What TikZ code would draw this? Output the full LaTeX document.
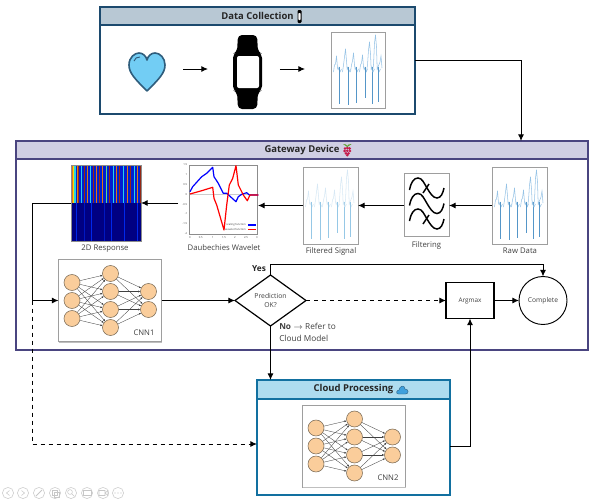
\documentclass[tikz,border=0pt]{standalone}
\usepackage{amsmath, amssymb}
\usepackage{fontspec}
\setmainfont{Open Sans}
\usetikzlibrary{arrows.meta, positioning, shapes.geometric, calc}
\definecolor{dcnavy}{RGB}{28,74,110}
\definecolor{dchead}{RGB}{184,200,212}
\definecolor{gwpurple}{RGB}{74,69,128}
\definecolor{gwhead}{RGB}{208,207,227}
\definecolor{cloudteal}{RGB}{18,112,160}
\definecolor{cloudhead}{RGB}{174,220,239}
\definecolor{heartblue}{RGB}{114,205,244}
\definecolor{heartline}{RGB}{47,93,124}
\definecolor{nnfill}{RGB}{250,205,155}
\definecolor{nnline}{RGB}{120,105,85}
\definecolor{rawwave}{RGB}{150,195,230}
\definecolor{rawspike}{RGB}{85,150,200}
\definecolor{filtwave}{RGB}{215,232,245}
\definecolor{filtspike}{RGB}{150,200,230}
\definecolor{respnavy}{RGB}{0,0,130}
\definecolor{respblue}{RGB}{0,40,235}
\definecolor{respcyan}{RGB}{40,210,230}
\definecolor{resporange}{RGB}{225,120,20}
\definecolor{respbrown}{RGB}{150,40,20}
\definecolor{respgreen}{RGB}{90,220,140}
\definecolor{labeltext}{RGB}{64,64,64}
\definecolor{berry}{RGB}{197,26,74}
\definecolor{leaf}{RGB}{90,160,44}
\definecolor{cloudicon}{RGB}{63,160,220}
\tikzset{
  boxsize/.style 2 args={minimum width=#1*0.75pt, minimum height=#2*0.75pt, inner sep=0pt, outer sep=0pt},
  flow/.style={-{Latex[length=5pt,width=4.5pt]}, line width=0.7pt},
  dashflow/.style={flow, dashed},
  plainflow/.style={line width=0.7pt},
  sigbox/.style={draw=black!38, line width=0.6pt, fill=white},
  caption/.style={font=\fontsize{5.8}{7}\selectfont, text=labeltext},
  headtext/.style={font=\fontsize{7.1}{8}\selectfont\bfseries, text=black!85},
  nnode/.style={circle, draw=nnline, line width=0.4pt, fill=nnfill, minimum size=12*1pt, inner sep=0pt},
  nnedge/.style={-{Latex[length=1.5pt,width=1.5pt]}, line width=0.25pt, black!75},
  cnnet/.pic={
    \node[sigbox, boxsize={103}{82}] (-frame) at (0,0) {};
    \draw[black!25, line width=0.8pt] (-51.5,41.6) -- (51.5,41.6);
    \foreach \i/\ypos in {1/-18,2/0,3/18} \node[nnode] (-a\i) at (-38,\ypos) {};
    \foreach \i/\ypos in {1/-27,2/-9,3/9,4/27} \node[nnode] (-b\i) at (0.5,\ypos) {};
    \foreach \i/\ypos in {1/-9,2/9} \node[nnode] (-c\i) at (38.5,\ypos) {};
    \foreach \i in {1,2,3} \foreach \j in {1,2,3,4} \draw[nnedge] (-a\i) -- (-b\j);
    \foreach \i in {1,2,3,4} \foreach \j in {1,2} \draw[nnedge] (-b\i) -- (-c\j);
    \node[caption] (-label) at (34,32) {\tikzpictext};
  }
}
% one ecg trace, origin at the upper left of its frame
\newcommand{\ecgtrace}[4]{
  \begin{scope}[shift={(#1,#2)}]
    \foreach \s/\h/\e in {8/24/72,17/17/73,25/21/71,34/23/66,41/10/72,47/3/70} {
      \draw[#3, line width=0.4pt, line join=round] ({\s-5.5},40) -- ({\s-4.5},33) -- ({\s-3.5},\h+8) -- ({\s-2.5},\h) -- ({\s-1.5},\h+12) -- ({\s-0.8},38) -- (\s,35) -- ({\s+1},40) -- ({\s+2.5},37);
      \draw[#4, line width=0.45pt] (\s,35) -- (\s,\e);
    }
    \draw[#3, line width=0.4pt] (47,35) -- (49,30) -- (50,24) -- (51,36);
  \end{scope}
}
\begin{document}
\begin{tikzpicture}[x=0.75pt, y=-0.75pt]
  \useasboundingbox (0,0) rectangle (596,500);
  % data collection
  \node[draw=dcnavy, line width=1.6pt, fill=white, boxsize={315}{107}] (datacol) at (257.5,60.5) {};
  \node[draw=dcnavy, line width=1.4pt, fill=dchead, boxsize={315}{18.5}, headtext] (dchd) at (257.5,16) {Data Collection};
  \fill[black, rounded corners=0.8pt] (297.5,10) rectangle (301.5,23);
  \fill[white, rounded corners=0.5pt] (298.4,13) rectangle (300.6,20);
  \node[boxsize={38}{32}] (heart) at (147,69) {};
  \draw[heartline, line width=1.2pt, fill=heartblue, line join=round] (147,91) .. controls (135,79) and (129,73) .. (129,65) .. controls (129,57) and (135,53) .. (139,53) .. controls (143,53) and (146,56) .. (147,60) .. controls (148,56) and (151,53) .. (155,53) .. controls (160,53) and (165,58) .. (165,65) .. controls (165,73) and (159,79) .. (147,91);
  \draw[heartline, line width=0.7pt] (134,61) .. controls (135,58) and (137,57) .. (140,57);
  \node[boxsize={30}{60}] (watch) at (247.5,69) {};
  \fill[black, rounded corners=3pt] (238,35) -- (257,35) -- (258,52) -- (262,54) -- (262,90) -- (258,92) -- (257,109) -- (238,109) -- (237,92) -- (233,90) -- (233,54) -- (237,52) -- cycle;
  \fill[white, rounded corners=1.5pt] (237,56) rectangle (259,88);
  \node[sigbox, boxsize={54}{76}] (rawdc) at (358,70) {};
  \ecgtrace{331}{32}{rawwave}{rawspike}
  \coordinate (wirea) at (358,69);
  \draw[flow, shorten <=12.75pt, shorten >=18.4pt] (heart.east) -- (watch.west);
  \draw[flow, shorten <=13pt, shorten >=19.5pt] (watch.east) -- (wirea -| rawdc.west);
  % gateway device
  \node[draw=gwpurple, line width=1.6pt, fill=white, boxsize={572}{209}] (gateway) at (302,245.5) {};
  \node[draw=gwpurple, line width=1.4pt, fill=gwhead, boxsize={572}{18.5}, headtext] (gwhd) at (302,150) {Gateway Device};
  \foreach \bx/\by in {345/148.5,347.3/148,349.6/148.5,344.6/151,347.3/150.8,350/151,346/153.4,348.6/153.4,347.3/155.2} \fill[berry] (\bx,\by) circle (1.1pt);
  \fill[leaf] (347.3,147) -- (343,144) -- (346,144.5) -- (347.3,146) -- (348.6,144.5) -- (351.6,144) -- cycle;
  \coordinate (gwin) at (521,141);
  \draw[flow] (datacol.east) -| (gwin);
  % raw data, filtering, filtered signal
  \node[sigbox, boxsize={55}{77}] (rawdata) at (519.5,205.5) {};
  \ecgtrace{492}{167}{rawwave}{rawspike}
  \node[caption] (rawcap) at (520,250.5) {Raw Data};
  \node[sigbox, boxsize={45}{63}] (filtering) at (426.5,204.5) {};
  \foreach \dy in {0,15.5,31}
    \draw[black, line width=1.1pt] (409.5,190+\dy) .. controls (411,182+\dy) and (414,178+\dy) .. (418,178+\dy) .. controls (422,178+\dy) and (424,183+\dy) .. (427,188+\dy) .. controls (430,193+\dy) and (433,198+\dy) .. (437,198+\dy) .. controls (441,198+\dy) and (443,193+\dy) .. (444,188+\dy);
  \draw[black, line width=1.1pt] (423,193) -- (429,184);
  \draw[black, line width=1.1pt] (423,224) -- (429,215);
  \node[caption] (filtcap) at (426.5,245) {Filtering};
  \node[sigbox, boxsize={55}{77}] (filtsig) at (330.5,205.5) {};
  \ecgtrace{303}{167}{filtwave}{filtspike}
  \node[caption] (filtsigcap) at (331,251.5) {Filtered Signal};
  % wavelet plot
  \node[boxsize={80}{82}] (wave) at (218,204) {};
  \draw[black!20, line width=0.5pt] (189,194.3) -- (257,194.3);
  \draw[black!45, line width=0.5pt] (189,165) rectangle (257,234);
  \foreach \ty/\tpos in {1.5/165,1/175,0.5/184.3,0/194.3,-0.5/204.3,-1/214,-1.5/224,-2/233.7}
    \node[font=\fontsize{2}{2}\selectfont, text=labeltext, inner sep=0pt, anchor=east] (ty\tpos) at (187.5,\tpos) {\ty};
  \foreach \tx/\tpos in {0/190,0.5/200.7,1/212.7,1.5/224,2/235,2.5/246,3/257}
    \node[font=\fontsize{2}{2}\selectfont, text=labeltext, inner sep=0pt] (tx\tpos) at (\tpos,237.5) {\tx};
  \draw[blue, line width=0.9pt, line join=round] (190,191.7) -- (192.7,186.7) -- (201.7,176.7) -- (206.7,173.3) -- (212.7,167.3) -- (214,176.7) -- (218.3,183.3) -- (223.3,193.3) -- (226.7,193.3) -- (236,201.7) -- (238.3,196.7) -- (241.7,194.3) -- (246.7,192.7) -- (249.3,195) -- (258.3,195);
  \draw[red, line width=0.9pt, line join=round] (190,194) -- (201.7,190.7) -- (212.7,187.3) -- (214,198.3) -- (216.7,205) -- (224,230) -- (226.7,205) -- (229.3,185) -- (232.7,178.3) -- (236,165.7) -- (238.3,185) -- (243.3,195) -- (247.3,200.7) -- (250,195) -- (258.3,195);
  \node[font=\fontsize{2}{2}\selectfont, text=labeltext, inner sep=0pt, anchor=east] (legscale) at (246,225) {scaling function};
  \node[font=\fontsize{2}{2}\selectfont, text=labeltext, inner sep=0pt, anchor=east] (legwave) at (246,229.5) {wavelet function};
  \draw[blue, line width=0.8pt] (legscale.east) ++(2,0) -- ++(8,0);
  \draw[red, line width=0.8pt] (legwave.east) ++(2,0) -- ++(8,0);
  \node[caption] (wavecap) at (224,248) {Daubechies Wavelet};
  % 2d response
  \node[boxsize={70}{76}, fill=respnavy] (resp2d) at (106,203) {};
  \fill[respblue!75!respnavy] (71,165) rectangle (141,203);
  \foreach \sx/\sw/\sc in {71/1.5/resporange,72.5/1.5/yellow!80!orange,74/1.5/respcyan,76.5/1/resporange,78/1/respbrown,81/1/respcyan,84/1.2/respbrown,87/1/resporange,90/1/respcyan,93/1.2/respbrown,95.5/0.8/resporange,99/1/respbrown,102/1/resporange,106/1.4/respgreen,109/1/respbrown,113/1/respcyan,116/1.2/resporange,119/1/respbrown,123/1/respcyan,126.5/1.2/resporange,130/1/respbrown,134/1/respcyan,137/1.2/resporange,139.5/1/respbrown}
    \fill[\sc] (\sx,165) rectangle (\sx+\sw,203);
  \foreach \sx/\sw/\sc in {76/1.2/respblue,84/0.8/respblue!60!respnavy,91/1.2/respblue,104/0.8/respblue!60!respnavy,111/1.2/respblue,124/1.2/respblue,137/1.2/respblue}
    \fill[\sc] (\sx,203) rectangle (\sx+\sw,241);
  \draw[black!45, line width=0.5pt] (71,165) rectangle (141,241);
  \node[caption] (respcap) at (105,249) {2D Response};
  \draw[flow] (rawdata.west) -- (filtering.east |- rawdata.west);
  \draw[flow] (filtering.west |- rawdata.west) -- (filtsig.east);
  \draw[flow] (filtsig.west) -- (wave.east |- filtsig.west);
  \draw[flow] (wave.west |- resp2d.east) -- (resp2d.east);
  % cnn1 and decision
  \pic[pic text=CNN1] (cnna) at (110,300.5) {cnnet};
  \coordinate (split) at (32,300.5);
  \draw[plainflow] (resp2d.west) -| (split);
  \draw[flow] (split) -- (cnna-frame.west);
  \node[diamond, draw=black, line width=0.9pt, fill=white, boxsize={71}{51}, aspect=1.4, align=center, font=\fontsize{5.1}{7}\selectfont, text=labeltext] (predict) at (270.5,300.5) {Prediction\\OK?};
  \draw[flow] (cnna-frame.east) -- (predict.west);
  \node[draw=black, line width=0.9pt, fill=white, boxsize={48}{36}, font=\fontsize{4.8}{6}\selectfont, text=labeltext] (argmax) at (470,300.5) {Argmax};
  \node[circle, draw=black, line width=0.7pt, fill=white, boxsize={48}{48}, font=\fontsize{5}{6}\selectfont, text=labeltext] (complete) at (543,300.5) {Complete};
  \draw[dashflow] (predict.east) -- (argmax.west);
  \draw[flow] (argmax.east) -- (complete.west);
  \draw[flow] (predict.north) -- ++(0,-11) -| (complete.north);
  \node[font=\fontsize{6.2}{7}\selectfont\bfseries, text=black!85] (yeslabel) at (259,269) {Yes};
  \node[font=\fontsize{6.2}{9}\selectfont, text=labeltext, align=left, anchor=north west, inner sep=0pt] (nolabel) at (279,323) {\textbf{No} $\rightarrow$ Refer to\\Cloud Model};
  % cloud processing
  \node[draw=cloudteal, line width=1.6pt, fill=white, boxsize={193}{115}] (cloudbox) at (353.5,437.5) {};
  \node[draw=cloudteal, line width=1.4pt, fill=cloudhead, boxsize={193}{19}, headtext] (cloudhd) at (353.5,389.5) {Cloud Processing};
  \draw[heartline, line width=0.3pt, fill=cloudicon] (398.5,394) .. controls (395.5,394) and (396.5,390) .. (399,390) .. controls (399.5,386) and (404.5,384) .. (405,389) .. controls (409,389) and (409,394) .. (405.5,394) -- cycle;
  \pic[pic text=CNN2] (cnnb) at (354,446) {cnnet};
  \coordinate (cloudin) at (257,444);
  \coordinate (cloudout) at (450,446);
  \draw[dashflow] (split) |- (cloudin);
  \draw[flow] (predict.south) -- (predict.south |- cloudbox.north);
  \draw[flow] (cloudout) -| (argmax.south);
  % slide controls
  \foreach \cx in {8,23,39,55,71,87,103,118}
    \draw[black!18, line width=0.5pt] (\cx,493) circle (4.2pt);
  \draw[black!22, line width=0.4pt] (9.5,490.5) -- (6.5,493) -- (9.5,495.5);
  \draw[black!22, line width=0.4pt] (21.5,490.5) -- (24.5,493) -- (21.5,495.5);
  \draw[black!22, line width=0.6pt] (36,496) -- (42,490);
  \draw[black!22, line width=0.4pt] (52,490) rectangle (57,495);
  \draw[black!22, line width=0.4pt] (54,492) rectangle (59,497);
  \draw[black!22, line width=0.4pt] (70,492) circle (1.8pt) (71.8,493.8) -- (74.5,496.5);
  \draw[black!22, line width=0.4pt] (83,490.5) rectangle (91,495.5);
  \draw[black!22, line width=0.4pt] (99,490.5) rectangle (105,495.5) (105,493) -- (108,490.5) -- (108,495.5) -- cycle;
  \foreach \cx in {115,118,121} \fill[black!25] (\cx,493) circle (0.45pt);
\end{tikzpicture}
\end{document}
